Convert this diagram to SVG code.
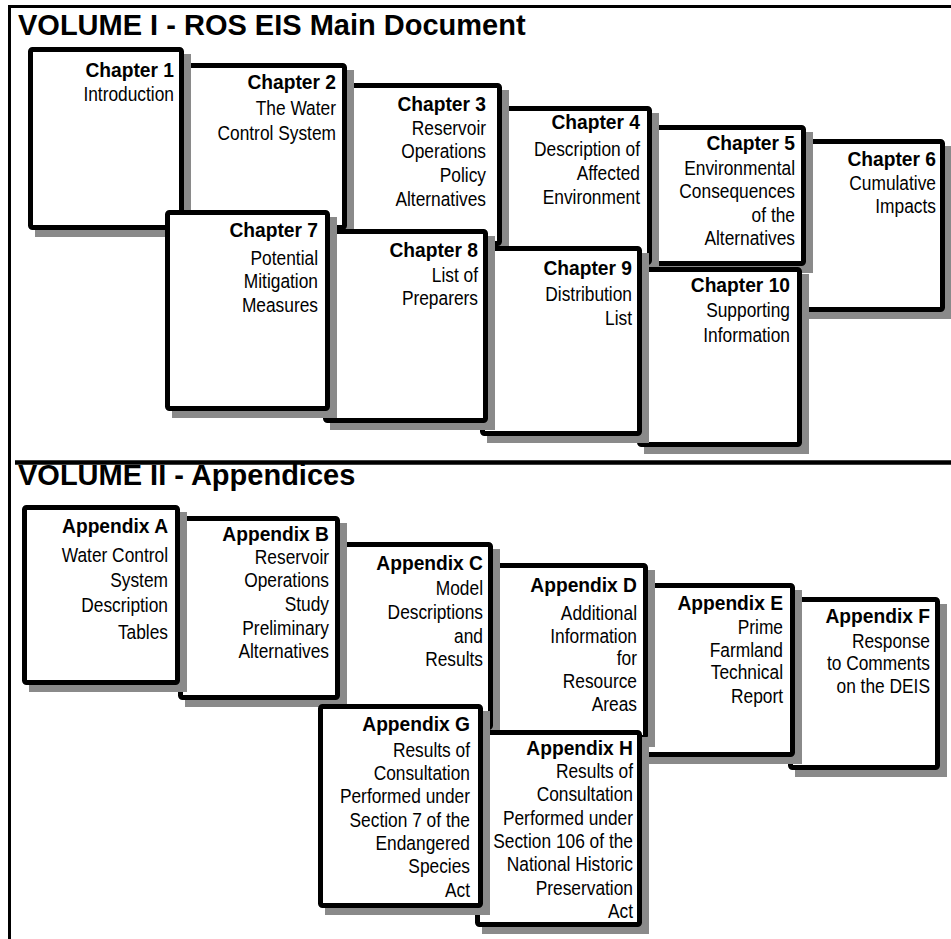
<svg xmlns="http://www.w3.org/2000/svg" width="951" height="939" viewBox="0 0 951 939">
<style>
.sh{fill:#8a8a8a}
.bx{fill:#fff;stroke:#000;stroke-width:5;stroke-linejoin:round}
.fr{stroke:#000;fill:none}
.vh{font-family:"Liberation Sans",Arial,sans-serif;font-weight:bold;font-size:29px;fill:#000}
text.t{font-family:"Liberation Sans",Arial,sans-serif;font-weight:bold;font-size:21px;fill:#000;text-anchor:end;transform:scaleX(.915)}
text.s{font-family:"Liberation Sans",Arial,sans-serif;font-size:19.5px;fill:#000;text-anchor:end;transform:scaleX(.89)}
</style>
<rect x="0" y="0" width="951" height="939" fill="#fff"/>
<g id="frame">
<line class="fr" x1="9.5" y1="5" x2="9.5" y2="939" stroke-width="3"/>
<line class="fr" x1="8" y1="6.5" x2="951" y2="6.5" stroke-width="3"/>
<line class="fr" x1="15" y1="462.5" x2="951" y2="462.5" stroke-width="4.5"/>
</g>
<text id="volume1" class="vh" x="18" y="35">VOLUME I - ROS EIS Main Document</text>
<text id="volume2" class="vh" x="18" y="485">VOLUME II - Appendices</text>

<g id="ch6">
<rect class="sh" x="802" y="146" width="150" height="173"/>
<rect class="bx" x="797.5" y="141.5" width="145" height="168" rx="2"/>
<g transform="translate(936,0)"><text class="t" y="166">Chapter 6</text><text class="s" y="190">Cumulative</text><text class="s" y="213">Impacts</text></g>
</g>
<g id="ch5">
<rect class="sh" x="647" y="132" width="166" height="141"/>
<rect class="bx" x="642.5" y="127.5" width="161" height="136" rx="2"/>
<g transform="translate(795,0)"><text class="t" y="150">Chapter 5</text><text class="s" y="175">Environmental</text><text class="s" y="198">Consequences</text><text class="s" y="222">of the</text><text class="s" y="245">Alternatives</text></g>
</g>
<g id="ch4">
<rect class="sh" x="497" y="113" width="162" height="159"/>
<rect class="bx" x="492.5" y="108.5" width="157" height="154" rx="2"/>
<g transform="translate(640,0)"><text class="t" y="129">Chapter 4</text><text class="s" y="156">Description of</text><text class="s" y="180">Affected</text><text class="s" y="204">Environment</text></g>
</g>
<g id="ch3">
<rect class="sh" x="342" y="90" width="167" height="163"/>
<rect class="bx" x="337.5" y="85.5" width="162" height="158" rx="2"/>
<g transform="translate(486,0)"><text class="t" y="111">Chapter 3</text><text class="s" y="135">Reservoir</text><text class="s" y="158">Operations</text><text class="s" y="182">Policy</text><text class="s" y="206">Alternatives</text></g>
</g>
<g id="ch2">
<rect class="sh" x="182" y="70" width="172" height="167"/>
<rect class="bx" x="177.5" y="65.5" width="167" height="162" rx="2"/>
<g transform="translate(336,0)"><text class="t" y="89">Chapter 2</text><text class="s" y="115">The Water</text><text class="s" y="140">Control System</text></g>
</g>
<g id="ch1">
<rect class="sh" x="35" y="54" width="156" height="183"/>
<rect class="bx" x="30.5" y="49.5" width="151" height="178" rx="2"/>
<g transform="translate(174,0)"><text class="t" y="77">Chapter 1</text><text class="s" y="101.5">Introduction</text></g>
</g>
<g id="ch10">
<rect class="sh" x="644" y="274" width="165" height="180"/>
<rect class="bx" x="639.5" y="269.5" width="160" height="175" rx="2"/>
<g transform="translate(790,0)"><text class="t" y="292">Chapter 10</text><text class="s" y="317">Supporting</text><text class="s" y="342">Information</text></g>
</g>
<g id="ch9">
<rect class="sh" x="487" y="253" width="162" height="190"/>
<rect class="bx" x="482.5" y="248.5" width="157" height="185" rx="2"/>
<g transform="translate(632,0)"><text class="t" y="275">Chapter 9</text><text class="s" y="301">Distribution</text><text class="s" y="325">List</text></g>
</g>
<g id="ch8">
<rect class="sh" x="330" y="236" width="165" height="194"/>
<rect class="bx" x="325.5" y="231.5" width="160" height="189" rx="2"/>
<g transform="translate(478,0)"><text class="t" y="257">Chapter 8</text><text class="s" y="282">List of</text><text class="s" y="305">Preparers</text></g>
</g>
<g id="ch7">
<rect class="sh" x="172" y="217" width="165" height="201"/>
<rect class="bx" x="167.5" y="212.5" width="160" height="196" rx="2"/>
<g transform="translate(318,0)"><text class="t" y="237">Chapter 7</text><text class="s" y="265">Potential</text><text class="s" y="288">Mitigation</text><text class="s" y="312">Measures</text></g>
</g>

<g id="appF">
<rect class="sh" x="795" y="604" width="152" height="173"/>
<rect class="bx" x="790.5" y="599.5" width="147" height="168" rx="2"/>
<g transform="translate(930,0)"><text class="t" y="623">Appendix F</text><text class="s" y="648">Response</text><text class="s" y="670">to Comments</text><text class="s" y="693">on the DEIS</text></g>
</g>
<g id="appE">
<rect class="sh" x="647" y="590" width="155" height="174"/>
<rect class="bx" x="642.5" y="585.5" width="150" height="169" rx="2"/>
<g transform="translate(783,0)"><text class="t" y="610">Appendix E</text><text class="s" y="634">Prime</text><text class="s" y="657">Farmland</text><text class="s" y="679">Technical</text><text class="s" y="703">Report</text></g>
</g>
<g id="appD">
<rect class="sh" x="492" y="570" width="163" height="177"/>
<rect class="bx" x="487.5" y="565.5" width="158" height="172" rx="2"/>
<g transform="translate(637,0)"><text class="t" y="592">Appendix D</text><text class="s" y="620">Additional</text><text class="s" y="643">Information</text><text class="s" y="665">for</text><text class="s" y="688">Resource</text><text class="s" y="711">Areas</text></g>
</g>
<g id="appC">
<rect class="sh" x="339" y="549" width="161" height="188"/>
<rect class="bx" x="334.5" y="544.5" width="156" height="183" rx="2"/>
<g transform="translate(483,0)"><text class="t" y="570">Appendix C</text><text class="s" y="595">Model</text><text class="s" y="619">Descriptions</text><text class="s" y="643">and</text><text class="s" y="666">Results</text></g>
</g>
<g id="appB">
<rect class="sh" x="185" y="523" width="162" height="184"/>
<rect class="bx" x="180.5" y="518.5" width="157" height="179" rx="2"/>
<g transform="translate(329,0)"><text class="t" y="541">Appendix B</text><text class="s" y="564">Reservoir</text><text class="s" y="587">Operations</text><text class="s" y="611">Study</text><text class="s" y="635">Preliminary</text><text class="s" y="658">Alternatives</text></g>
</g>
<g id="appA">
<rect class="sh" x="29" y="512" width="158" height="180"/>
<rect class="bx" x="24.5" y="507.5" width="153" height="175" rx="2"/>
<g transform="translate(168,0)"><text class="t" y="533">Appendix A</text><text class="s" y="562">Water Control</text><text class="s" y="587">System</text><text class="s" y="612">Description</text><text class="s" y="639">Tables</text></g>
</g>
<g id="appH">
<rect class="sh" x="482" y="737" width="167" height="197"/>
<rect class="bx" x="477.5" y="732.5" width="162" height="192" rx="2"/>
<g transform="translate(633,0)"><text class="t" y="755">Appendix H</text><text class="s" y="778">Results of</text><text class="s" y="801">Consultation</text><text class="s" y="825">Performed under</text><text class="s" y="848">Section 106 of the</text><text class="s" y="871">National Historic</text><text class="s" y="895">Preservation</text><text class="s" y="918">Act</text></g>
</g>
<g id="appG">
<rect class="sh" x="325" y="711" width="165" height="204"/>
<rect class="bx" x="320.5" y="706.5" width="160" height="199" rx="2"/>
<g transform="translate(470,0)"><text class="t" y="731">Appendix G</text><text class="s" y="757">Results of</text><text class="s" y="780">Consultation</text><text class="s" y="803">Performed under</text><text class="s" y="827">Section 7 of the</text><text class="s" y="850">Endangered</text><text class="s" y="873">Species</text><text class="s" y="897">Act</text></g>
</g>
</svg>
